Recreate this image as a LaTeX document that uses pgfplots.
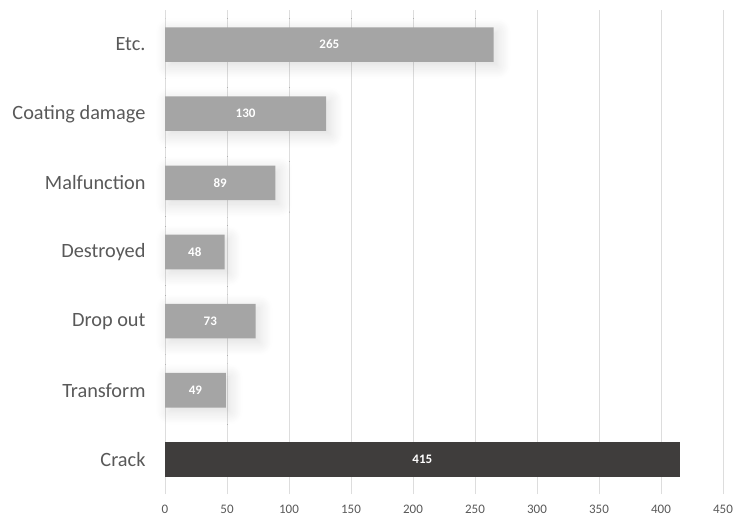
\documentclass[border=0pt]{standalone}
\usepackage{fontspec}
\setmainfont{Carlito}
\usepackage{pgfplots}
\pgfplotsset{compat=1.18}
\usepackage{pgfplotstable}
\usetikzlibrary{shadows.blur}

\definecolor{barg}{HTML}{A5A5A5}
\definecolor{bard}{HTML}{3F3D3C}
\definecolor{txt}{HTML}{595959}
\definecolor{grd}{HTML}{DDDDDD}

\pgfplotstableread{
idx val
1 49
2 73
3 48
4 89
5 130
6 265
}\grey
\pgfplotstableread{
idx val
0 415
}\dark
\pgfplotstableread{
idx val
0 415
1 49
2 73
3 48
4 89
5 130
6 265
}\all

\begin{document}
\begin{tikzpicture}
\begin{axis}[
  scale only axis,
  width=558pt, height=484pt,
  xbar, bar width=0.5, bar shift=0pt,
  xmin=0, xmax=450,
  ymin=-0.5, ymax=6.5,
  xtick={0,50,...,450},
  ytick={0,...,6},
  yticklabels={Crack,Transform,Drop out,Destroyed,Malfunction,Coating damage,Etc.},
  axis line style={draw=none},
  xmajorgrids, major grid style={grd, line width=0.8pt},
  major tick length=0pt,
  tick label style={text=txt},
  yticklabel style={font=\fontsize{20.3}{22}\selectfont, xshift=-16pt},
  xticklabel style={font=\fontsize{13}{15}\selectfont, yshift=-8pt},
  /pgf/number format/assume math mode=true,
  clip=false,
]
\coordinate (bl) at (rel axis cs:0,0);
\coordinate (tr) at (rel axis cs:1,1);
\draw[grd, line width=0.8pt] (axis cs:0,-0.5) -- (axis cs:0,6.5);
\addplot[fill=barg, draw=none, blur shadow={shadow xshift=4pt, shadow yshift=-4pt, shadow blur radius=13pt, shadow opacity=14, shadow blur steps=12}] table[x=val, y=idx] {\grey};
\addplot[fill=bard, draw=none] table[x=val, y=idx] {\dark};
\addplot[draw=none, fill=none, point meta=explicit,
  nodes near coords,
  nodes near coords style={anchor=center, text=white, font=\bfseries\fontsize{13}{15}\selectfont, /pgf/number format/assume math mode=true}]
  table[x expr=\thisrow{val}/2, y=idx, meta=val] {\all};
\end{axis}
\pgfresetboundingbox
\path ([shift={(-165pt,-24pt)}]bl) rectangle ([shift={(11pt,10pt)}]tr);
\end{tikzpicture}
\end{document}
